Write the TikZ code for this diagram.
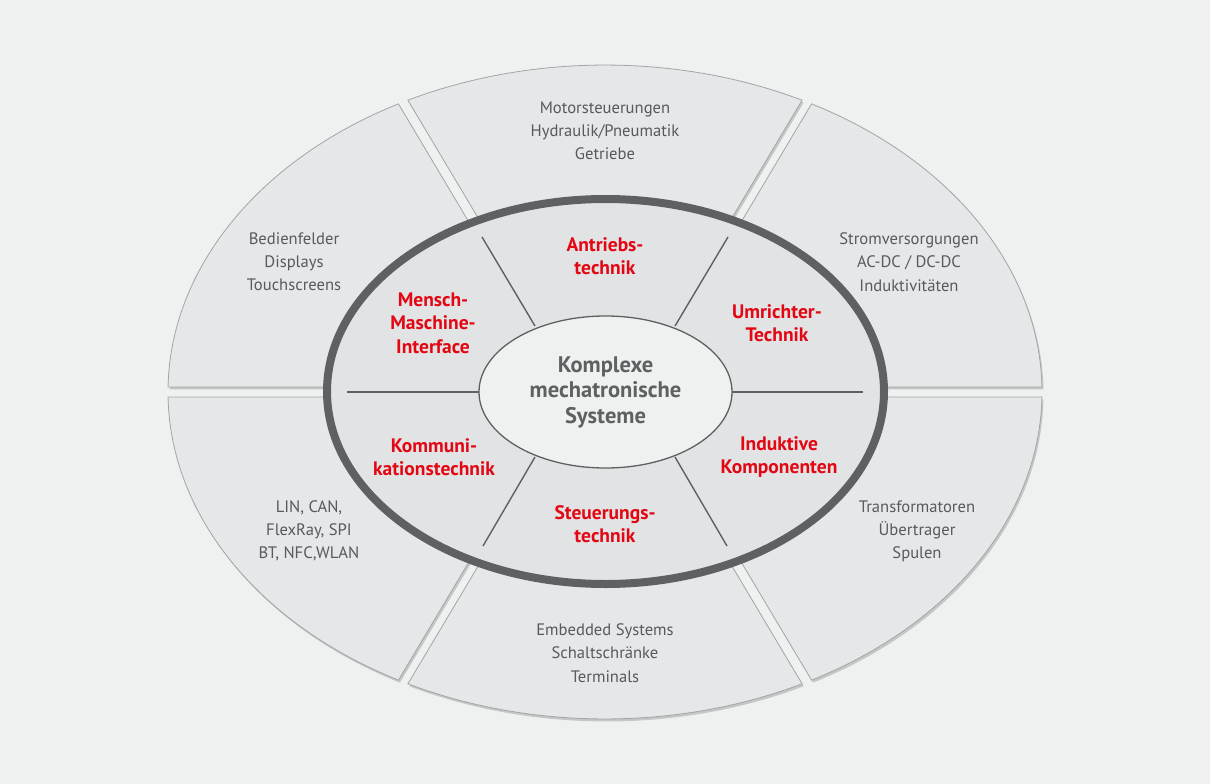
\documentclass[tikz,border=0pt]{standalone}
\usepackage{fontspec}
\setmainfont{PT Sans}
\usetikzlibrary{shapes.geometric,shadows}
\definecolor{bg}{HTML}{EFF0F0}
\definecolor{segfill}{HTML}{E6E7E8}
\definecolor{segline}{HTML}{A2A4A7}
\definecolor{ringc}{HTML}{5E6062}
\definecolor{innerfill}{HTML}{E2E3E4}
\definecolor{corefill}{HTML}{EFF0F0}
\definecolor{txtgray}{HTML}{58595B}
\definecolor{accent}{HTML}{E30613}
\begin{document}
\begin{tikzpicture}[x=1pt,y=-1pt,
  seg/.style={fill=segfill, draw=segline, line width=0.8pt,
    drop shadow={shadow xshift=1.5pt, shadow yshift=-2.5pt, opacity=0.3, fill=black!60}},
  outertxt/.style={text=txtgray, align=center, font=\fontsize{16.6}{23.2}\selectfont},
  redtxt/.style={text=accent, align=center, font=\bfseries\fontsize{19.5}{23.5}\selectfont},
  divider/.style={draw=ringc, line width=1.4pt}]
\useasboundingbox (0,0) rectangle (1210,784);
\fill[bg] (0,0) rectangle (1210,784);
% outer segments
\path[seg] (567.2,387) -- (168.05,386.98) arc[start angle=180.88, end angle=241.79, x radius=437, y radius=327] -- cycle;
\path[seg] (580.3,389.4) -- (407.9,100.2) arc[start angle=243.19, end angle=296.81, x radius=437, y radius=327] -- (629.7,389.4) -- cycle;
\path[seg] (642.8,387) -- (1041.95,386.98) arc[start angle=-0.88, end angle=-61.79, x radius=437, y radius=327] -- cycle;
\path[seg] (642.8,397) -- (1041.95,397.02) arc[start angle=0.88, end angle=61.79, x radius=437, y radius=327] -- cycle;
\path[seg] (629.7,394.6) -- (802.1,683.8) arc[start angle=63.19, end angle=116.81, x radius=437, y radius=327] -- (580.3,394.6) -- cycle;
\path[seg] (567.2,397) -- (168.05,397.02) arc[start angle=179.12, end angle=118.21, x radius=437, y radius=327] -- cycle;
% ring
\draw[ringc, line width=8pt, fill=innerfill] (605.5,391.5) ellipse [x radius=278.5, y radius=192.5];
% dividers
\coordinate (hl1) at (347,392);
\coordinate (hl2) at (479.5,392);
\coordinate (hr1) at (863,392);
\coordinate (hr2) at (731.5,392);
\coordinate (tl1) at (482,237);
\coordinate (tl2) at (535,326);
\coordinate (tr1) at (728,237);
\coordinate (tr2) at (675,326);
\coordinate (bl1) at (483,546);
\coordinate (bl2) at (535,457);
\coordinate (br1) at (727,546);
\coordinate (br2) at (675,457);
\draw[divider] (hl1) -- (hl2);
\draw[divider] (hr1) -- (hr2);
\draw[divider] (tl1) -- (tl2);
\draw[divider] (tr1) -- (tr2);
\draw[divider] (bl1) -- (bl2);
\draw[divider] (br1) -- (br2);
% core
\node[ellipse, draw=ringc, fill=corefill, line width=1.3pt, minimum width=253, minimum height=152, inner sep=0pt,
  text=ringc, align=center, font=\bfseries\fontsize{22.5}{25.5}\selectfont] (core) at (605.5,392) {Komplexe\\mechatronische\\Systeme};
% red labels
\node[redtxt] (antrieb) at (605,256) {Antriebs-\\technik};
\node[redtxt] (mmi) at (433,323) {Mensch-\\Maschine-\\Interface};
\node[redtxt] (umrichter) at (777,323) {Umrichter-\\Technik};
\node[redtxt] (komm) at (434,457) {Kommuni-\\kationstechnik};
\node[redtxt] (induktiv) at (779,457) {Induktive\\Komponenten};
\node[redtxt] (steuer) at (605,524) {Steuerungs-\\technik};
% outer labels
\node[outertxt] (top) at (605,131) {Motorsteuerungen\\Hydraulik/Pneumatik\\Getriebe};
\node[outertxt] (lt) at (294,262) {Bedienfelder\\Displays\\Touchscreens};
\node[outertxt] (rt) at (909,262) {Stromversorgungen\\AC-DC / DC-DC\\Induktivitäten};
\node[outertxt] (rb) at (917,531) {Transformatoren\\Übertrager\\Spulen};
\node[outertxt] (bot) at (605,653) {Embedded Systems\\Schaltschränke\\Terminals};
\node[outertxt] (lb) at (309,531) {LIN, CAN,\\FlexRay, SPI\\BT, NFC,WLAN};
\end{tikzpicture}
\end{document}
